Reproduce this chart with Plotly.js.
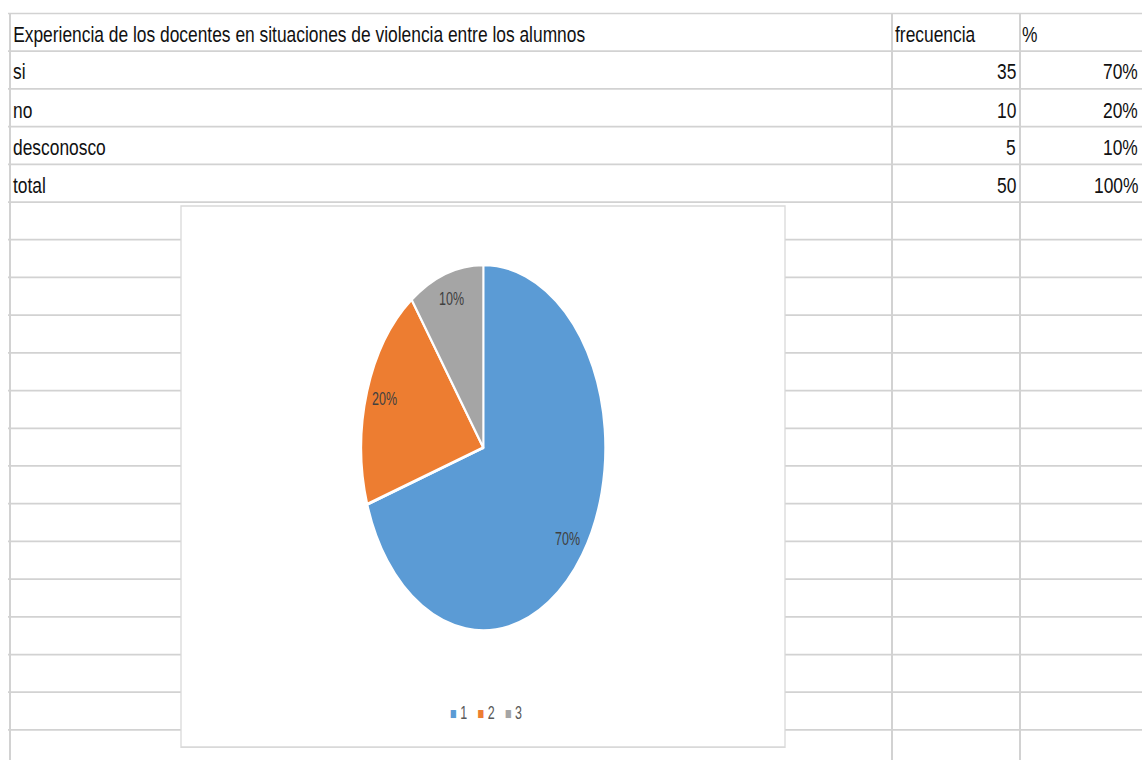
<!DOCTYPE html>
<html>
<head>
<meta charset="utf-8">
<script src="https://cdn.plot.ly/plotly-3.0.1.min.js"></script>
<style>
  html, body { margin: 0; padding: 0; background: #ffffff; overflow: hidden; }
  #hoja { position: absolute; left: 0; top: 0; width: 1142px; height: 613px;
          transform: scaleY(1.24); transform-origin: 0 0; }
  #grafico { position: absolute; left: 181px; top: 206px; width: 604px; height: 361px;
             transform: scaleY(1.5); transform-origin: 0 0; }
</style>
</head>
<body>
<div id="hoja"></div>
<div id="grafico"></div>
<script>
// ---- data ----
const tituloTabla = 'Experiencia de los docentes en situaciones de violencia entre los alumnos';
const encabezados = ['frecuencia', '%'];
const categorias = ['si', 'no', 'desconosco', 'total'];
const frecuencias = ['35', '10', '5', '50'];
const porcentajes = ['70%', '20%', '10%', '100%'];
const etiquetasPie = ['1', '2', '3'];
const valoresPie = [35, 10, 5];
const textosPie = ['70%', '20%', '10%'];
const coloresPie = ['#5B9BD5', '#ED7D31', '#A5A5A5'];

// ---- spreadsheet background ----
const fuente = 'Liberation Sans, Arial, sans-serif';
const HH = 613;                      // drawn height before vertical stretch (x1.24)
const filaTop = 13.5, filaAlto = 37.7;
const colX = [10, 892, 1020];
const shapes = [];
for (let k = 0; k <= 20; k++) {
  const y = filaTop + filaAlto * k;
  shapes.push({type: 'line', xref: 'x', yref: 'y', x0: 8, x1: 1142, y0: y, y1: y,
               line: {color: '#D2D2D2', width: 1.4}});
}
colX.forEach(x => shapes.push({type: 'line', xref: 'x', yref: 'y', x0: x, x1: x, y0: filaTop, y1: 760,
               line: {color: '#D2D2D2', width: 2}}));
// chart area box (covers grid)
shapes.push({type: 'rect', xref: 'x', yref: 'y', x0: 181, x1: 785, y0: 206, y1: 747,
             fillcolor: '#ffffff', line: {color: '#D9D9D9', width: 1.3}});

const anots = [];
function celda(texto, x, fila, anchor) {
  anots.push({text: texto, x: x, y: filaTop + filaAlto * (fila + 1) - 16.5, xref: 'x', yref: 'y',
              xanchor: anchor, yanchor: 'middle', showarrow: false,
              font: {family: fuente, size: 17.4, color: '#111111'}});
}
celda(tituloTabla, 11, 0, 'left');
celda(encabezados[0], 893, 0, 'left');
celda(encabezados[1], 1020, 0, 'left');
categorias.forEach((c, i) => {
  celda(c, 11, i + 1, 'left');
  celda(frecuencias[i], 1018, i + 1, 'right');
  celda(porcentajes[i], 1140, i + 1, 'right');
});

Plotly.newPlot('hoja', [], {
  width: 1142, height: HH, margin: {l: 0, r: 0, t: 0, b: 0},
  paper_bgcolor: '#ffffff', plot_bgcolor: '#ffffff',
  xaxis: {range: [0, 1142], visible: false, fixedrange: true},
  yaxis: {range: [760, 0], visible: false, fixedrange: true},
  shapes: shapes, annotations: anots, showlegend: false
}, {staticPlot: true});

// ---- pie chart (drawn, then stretched vertically like the reference) ----
const W = 604, H = 361, R = 122;
const cxPx = 302.3, cyPx = H - 161.1;   // centre in px (y from bottom)
const dom = {x: [(cxPx - R) / W, (cxPx + R) / W], y: [(cyPx - R) / H, (cyPx + R) / H]};
const suma = valoresPie.reduce((a, b) => a + b, 0);
const anotsPie = [];
let acum = 0;
valoresPie.forEach((v, i) => {
  const m = (acum + v / 2) / suma; acum += v;
  const th = 2 * Math.PI * m;
  anotsPie.push({text: textosPie[i], xref: 'paper', yref: 'paper',
    x: (cxPx + 0.85 * R * Math.sin(th)) / W, y: (cyPx + 0.85 * R * Math.cos(th)) / H,
    xanchor: 'center', yanchor: 'middle', showarrow: false,
    font: {family: fuente, size: 12.5, color: '#404040'}});
});
const leyenda = etiquetasPie.map((e, i) =>
  '<span style="color:' + coloresPie[i] + ';font-size:11px">\u25A0</span>\u00A0' + e).join('\u00A0\u00A0\u00A0');
anotsPie.push({text: leyenda, xref: 'paper', yref: 'paper', x: 0.505, y: 1 - 337.5 / H,
  xanchor: 'center', yanchor: 'middle', showarrow: false,
  font: {family: fuente, size: 12.5, color: '#595959'}});

Plotly.newPlot('grafico', [{
  type: 'pie', labels: etiquetasPie, values: valoresPie, sort: false,
  direction: 'clockwise', rotation: 0, textinfo: 'none', hoverinfo: 'label+percent',
  marker: {colors: coloresPie, line: {color: '#ffffff', width: 2}},
  domain: dom
}], {
  width: W, height: H, margin: {l: 0, r: 0, t: 0, b: 0},
  paper_bgcolor: 'rgba(0,0,0,0)', plot_bgcolor: 'rgba(0,0,0,0)',
  showlegend: false, annotations: anotsPie
}, {staticPlot: true});
</script>
</body>
</html>
